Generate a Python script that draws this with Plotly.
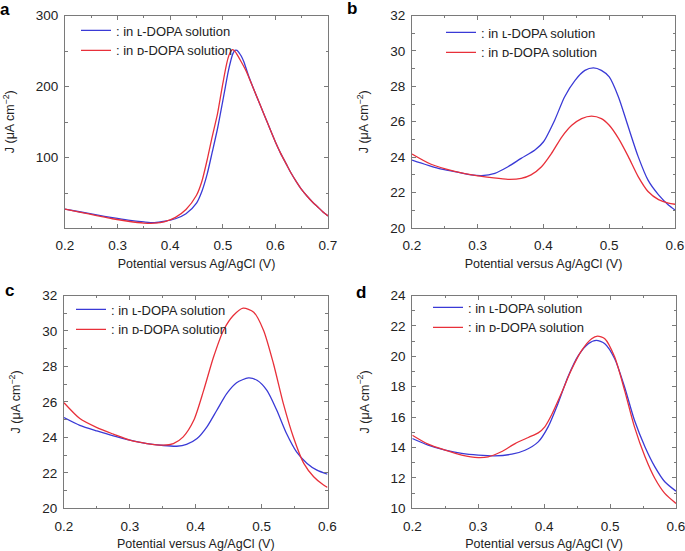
import plotly.graph_objects as go

W, H = 685, 551

# ---------------- data ----------------
# panel a
a_l_x = [0.20, 0.23, 0.26, 0.29, 0.32, 0.35, 0.37, 0.39, 0.41, 0.43, 0.45, 0.46, 0.47, 0.48, 0.49,
         0.50, 0.505, 0.51, 0.515, 0.519, 0.523, 0.527, 0.531, 0.535, 0.54, 0.545, 0.55, 0.56, 0.58,
         0.60, 0.61, 0.62, 0.63, 0.64, 0.65, 0.66, 0.67, 0.68, 0.69, 0.70]
a_l_y = [27.7, 23.5, 19.5, 15.5, 12.0, 9.5, 8.5, 10.5, 14.0, 21.0, 36.0, 52.0, 76.0, 108.0, 141.0,
         180.0, 200.0, 220.0, 236.0, 246.0, 251.0, 251.0, 247.5, 243.0, 235.0, 224.0, 213.0, 194.0, 158.0,
         122.0, 106.0, 92.0, 78.0, 66.0, 55.0, 46.0, 38.0, 31.0, 24.0, 18.0]
a_d_x = [0.20, 0.23, 0.26, 0.29, 0.32, 0.35, 0.37, 0.39, 0.41, 0.43, 0.45, 0.46, 0.47, 0.48, 0.49,
         0.495, 0.50, 0.505, 0.51, 0.514, 0.518, 0.522, 0.526, 0.535, 0.545, 0.55, 0.56, 0.58,
         0.60, 0.61, 0.62, 0.63, 0.64, 0.65, 0.66, 0.67, 0.68, 0.69, 0.70]
a_d_y = [27.7, 23.0, 18.5, 14.0, 10.5, 8.0, 7.8, 10.0, 16.0, 27.0, 47.0, 66.0, 96.0, 130.0, 162.0,
         183.0, 204.0, 224.0, 240.0, 248.0, 252.0, 250.5, 246.5, 235.0, 221.0, 212.0, 194.0, 158.0,
         122.0, 106.0, 92.0, 78.0, 66.0, 55.0, 46.0, 38.0, 31.0, 24.0, 18.0]

# panel b
b_l_x = [0.200, 0.240, 0.265, 0.290, 0.306, 0.326, 0.346, 0.366, 0.387, 0.400, 0.417, 0.432, 0.448,
         0.463, 0.476, 0.488, 0.500, 0.514, 0.529, 0.544, 0.559, 0.575, 0.590, 0.600]
b_l_y = [23.84, 23.37, 23.18, 23.00, 22.96, 23.09, 23.46, 23.93, 24.40, 24.87, 26.09, 27.40, 28.34,
         28.90, 29.04, 28.90, 28.53, 27.40, 25.70, 24.03, 22.70, 21.87, 21.30, 21.02]
b_d_x = [0.200, 0.229, 0.265, 0.300, 0.321, 0.346, 0.366, 0.381, 0.397, 0.412, 0.428, 0.443, 0.458,
         0.473, 0.488, 0.500, 0.514, 0.529, 0.544, 0.559, 0.575, 0.590, 0.600]
b_d_y = [24.18, 23.60, 23.20, 22.94, 22.84, 22.75, 22.80, 23.00, 23.46, 24.20, 25.15, 25.80, 26.18,
         26.32, 26.18, 25.80, 25.06, 24.03, 22.90, 22.06, 21.60, 21.40, 21.34]

# panel c
c_l_x = [0.200, 0.224, 0.250, 0.275, 0.300, 0.326, 0.351, 0.371, 0.386, 0.402, 0.417, 0.432, 0.447,
         0.462, 0.480, 0.493, 0.508, 0.523, 0.538, 0.553, 0.569, 0.584, 0.600]
c_l_y = [25.12, 24.68, 24.36, 24.08, 23.84, 23.65, 23.54, 23.50, 23.60, 23.93, 24.59, 25.53, 26.47,
         27.08, 27.35, 27.22, 26.65, 25.53, 24.20, 23.18, 22.53, 22.15, 21.92]
c_d_x = [0.200, 0.224, 0.250, 0.275, 0.300, 0.326, 0.351, 0.366, 0.381, 0.397, 0.412, 0.427, 0.442,
         0.457, 0.472, 0.488, 0.503, 0.518, 0.533, 0.548, 0.564, 0.579, 0.594, 0.600]
c_d_y = [25.95, 25.06, 24.55, 24.18, 23.84, 23.65, 23.56, 23.65, 24.03, 24.96, 26.65, 28.53, 30.03,
         30.87, 31.29, 31.06, 30.03, 28.15, 25.90, 24.03, 22.53, 21.78, 21.31, 21.18]

# panel d
d_l_x = [0.200, 0.224, 0.250, 0.275, 0.300, 0.325, 0.351, 0.371, 0.391, 0.406, 0.421, 0.436, 0.452,
         0.467, 0.479, 0.492, 0.507, 0.522, 0.537, 0.553, 0.568, 0.583, 0.600]
d_l_y = [14.59, 14.15, 13.82, 13.61, 13.50, 13.45, 13.56, 13.82, 14.37, 15.36, 16.89, 18.64, 20.06,
         20.83, 21.05, 20.83, 19.84, 17.98, 15.79, 14.04, 12.73, 11.75, 11.13]
d_d_x = [0.200, 0.224, 0.250, 0.275, 0.300, 0.315, 0.335, 0.356, 0.376, 0.391, 0.401, 0.411, 0.426,
         0.441, 0.457, 0.472, 0.481, 0.492, 0.507, 0.522, 0.537, 0.553, 0.568, 0.583, 0.600]
d_d_y = [14.81, 14.22, 13.82, 13.50, 13.34, 13.39, 13.72, 14.26, 14.66, 14.96, 15.36, 16.12, 17.55,
         19.08, 20.39, 21.16, 21.33, 21.16, 19.95, 17.76, 15.36, 13.39, 11.96, 10.98, 10.32]

panel_letters = ["a", "b", "c", "d"]
x_ranges = [[0.2, 0.7], [0.2, 0.6], [0.2, 0.6], [0.2, 0.6]]
x_ticks = [[0.2, 0.3, 0.4, 0.5, 0.6, 0.7], [0.2, 0.3, 0.4, 0.5, 0.6],
           [0.2, 0.3, 0.4, 0.5, 0.6], [0.2, 0.3, 0.4, 0.5, 0.6]]
y_ranges = [[1, 300], [20, 32], [20, 32], [10, 24]]
y_ticks = [[100, 200, 300], [20, 22, 24, 26, 28, 30, 32], [20, 22, 24, 26, 28, 30, 32],
           [10, 12, 14, 16, 18, 20, 22, 24]]
y_minor = [50, 1, 1, 1]
legend_l = ": in \u029f-DOPA solution"
legend_d = ": in \u1d05-DOPA solution"

series = [
    (a_l_x, a_l_y, a_d_x, a_d_y),
    (b_l_x, b_l_y, b_d_x, b_d_y),
    (c_l_x, c_l_y, c_d_x, c_d_y),
    (d_l_x, d_l_y, d_d_x, d_d_y),
]

# ---------------- layout geometry (pixels) ----------------
boxes = [  # left, right, top, bottom
    (65, 328, 15.5, 228),
    (412, 675, 15.5, 228),
    (64, 327.5, 295.5, 508.3),
    (412.3, 676, 295.5, 508.3),
]
legend_pos = [(76, 15.5), (441, 17.5), (71, 294.5), (428, 292.5)]
letter_pos = [(5, 10), (352, 9), (9, 290), (361, 292)]

FONT = "Liberation Sans, Arial, Helvetica, sans-serif"
BLUE = "#3a3ad6"
RED = "#e8303a"
AXC = "#7a7a7a"

fig = go.Figure()
layout = dict(
    template="none",
    width=W, height=H,
    margin=dict(l=0, r=0, t=0, b=0, autoexpand=False),
    paper_bgcolor="white", plot_bgcolor="white",
    font=dict(family=FONT, color="#222", size=13),
    showlegend=True,
)

annotations = []
for i in range(4):
    sfx = "" if i == 0 else str(i + 1)
    lx, ly, dx, dy = series[i]
    lg = "legend" if i == 0 else f"legend{i+1}"
    fig.add_trace(go.Scatter(x=lx, y=ly, mode="lines", name=legend_l,
                             line=dict(color=BLUE, width=1.3, shape="spline", smoothing=0.7),
                             xaxis="x" + sfx, yaxis="y" + sfx, legend=lg))
    fig.add_trace(go.Scatter(x=dx, y=dy, mode="lines", name=legend_d,
                             line=dict(color=RED, width=1.3, shape="spline", smoothing=0.7),
                             xaxis="x" + sfx, yaxis="y" + sfx, legend=lg))
    l, r, t, b = boxes[i]
    common = dict(showline=True, linecolor=AXC, linewidth=1, mirror="ticks",
                  ticks="inside", ticklen=4, tickcolor=AXC, tickwidth=1,
                  showgrid=False, zeroline=False, automargin=False,
                  ticklabeloverflow="allow",
                  tickfont=dict(size=13.5, color="#222", family=FONT))
    layout["xaxis" + sfx] = dict(
        common, domain=[l / W, r / W], range=x_ranges[i], tickvals=x_ticks[i],
        ticktext=[f"{v:.1f}" for v in x_ticks[i]],
        anchor="y" + sfx, ticklabelstandoff=5,
        minor=dict(dtick=0.05, tick0=0, ticks="inside", ticklen=2.5, tickcolor=AXC, showgrid=False),
        title=dict(text="Potential versus Ag/AgCl (V)", font=dict(size=12.5, color="#222"), standoff=7),
    )
    layout["yaxis" + sfx] = dict(
        common, domain=[1 - b / H, 1 - t / H], range=y_ranges[i], tickvals=y_ticks[i],
        anchor="x" + sfx, ticklabelstandoff=3,
        minor=dict(dtick=y_minor[i], tick0=0, ticks="inside", ticklen=2.5, tickcolor=AXC, showgrid=False),
        title=dict(text="J (μA cm<sup>−2</sup>)", font=dict(size=12.5, color="#222"), standoff=18),
    )
    lxp, lyp = legend_pos[i]
    layout[lg] = dict(x=lxp / W, y=1 - lyp / H, xanchor="left", yanchor="top",
                      bgcolor="rgba(0,0,0,0)", borderwidth=0,
                      font=dict(size=13, color="#222", family=FONT),
                      itemwidth=30, tracegroupgap=0)
    px, py = letter_pos[i]
    annotations.append(dict(text=f"<b>{panel_letters[i]}</b>", x=px / W, y=1 - py / H,
                            xref="paper", yref="paper", showarrow=False,
                            xanchor="center", yanchor="middle",
                            font=dict(size=17, color="black", family=FONT)))

layout["annotations"] = annotations
fig.update_layout(**layout)
fig.write_html("out.html",
               config={"displayModeBar": False},
               post_script="document.body.style.margin='0px';document.body.style.overflow='hidden';")
